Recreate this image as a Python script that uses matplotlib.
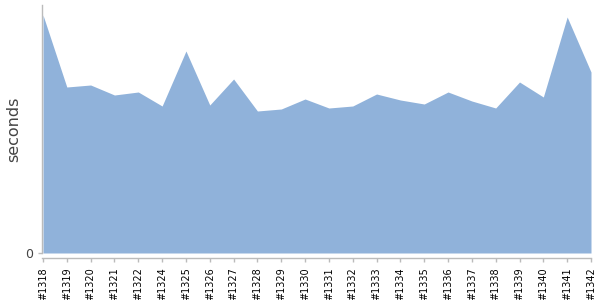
import matplotlib
matplotlib.use("Agg")
import matplotlib.pyplot as plt

builds = ["#1318", "#1319", "#1320", "#1321", "#1322", "#1324", "#1325", "#1326",
          "#1327", "#1328", "#1329", "#1330", "#1331", "#1332", "#1333", "#1334",
          "#1335", "#1336", "#1337", "#1338", "#1339", "#1340", "#1341", "#1342"]
seconds = [238, 166, 168, 158, 161, 147, 202, 148, 174, 142, 144, 154, 145, 147,
           159, 153, 149, 161, 152, 145, 171, 156, 236, 181]

fig = plt.figure(figsize=(6, 3), dpi=100)
ax = fig.add_axes([42/600, 47/300, (591-42)/600, (253-5)/300])
x = list(range(len(builds)))
ax.fill_between(x, 0, seconds, color="#90b2da", linewidth=0)
ax.set_xlim(-1/23.83, len(builds) - 1)
ax.set_ylim(0, 248)
for s in ["top", "right"]:
    ax.spines[s].set_visible(False)
for s in ["left", "bottom"]:
    ax.spines[s].set_color("#bbbbbb")
    ax.spines[s].set_linewidth(1)
ax.spines["bottom"].set_position(("outward", 3.6))
ax.set_xticks(x)
ax.set_xticklabels(builds, rotation=90, fontsize=7, color="#000000")
ax.set_yticks([0])
ax.set_yticklabels(["0"], fontsize=9, color="#444444")
ax.tick_params(axis="both", colors="#bbbbbb", length=3, width=1)
for lbl in ax.get_xticklabels():
    lbl.set_color("#000000")
for lbl in ax.get_yticklabels():
    lbl.set_color("#444444")
ax.set_ylabel("seconds", fontsize=11.5, color="#444444", labelpad=3)
fig.savefig("out.png", dpi=100)
